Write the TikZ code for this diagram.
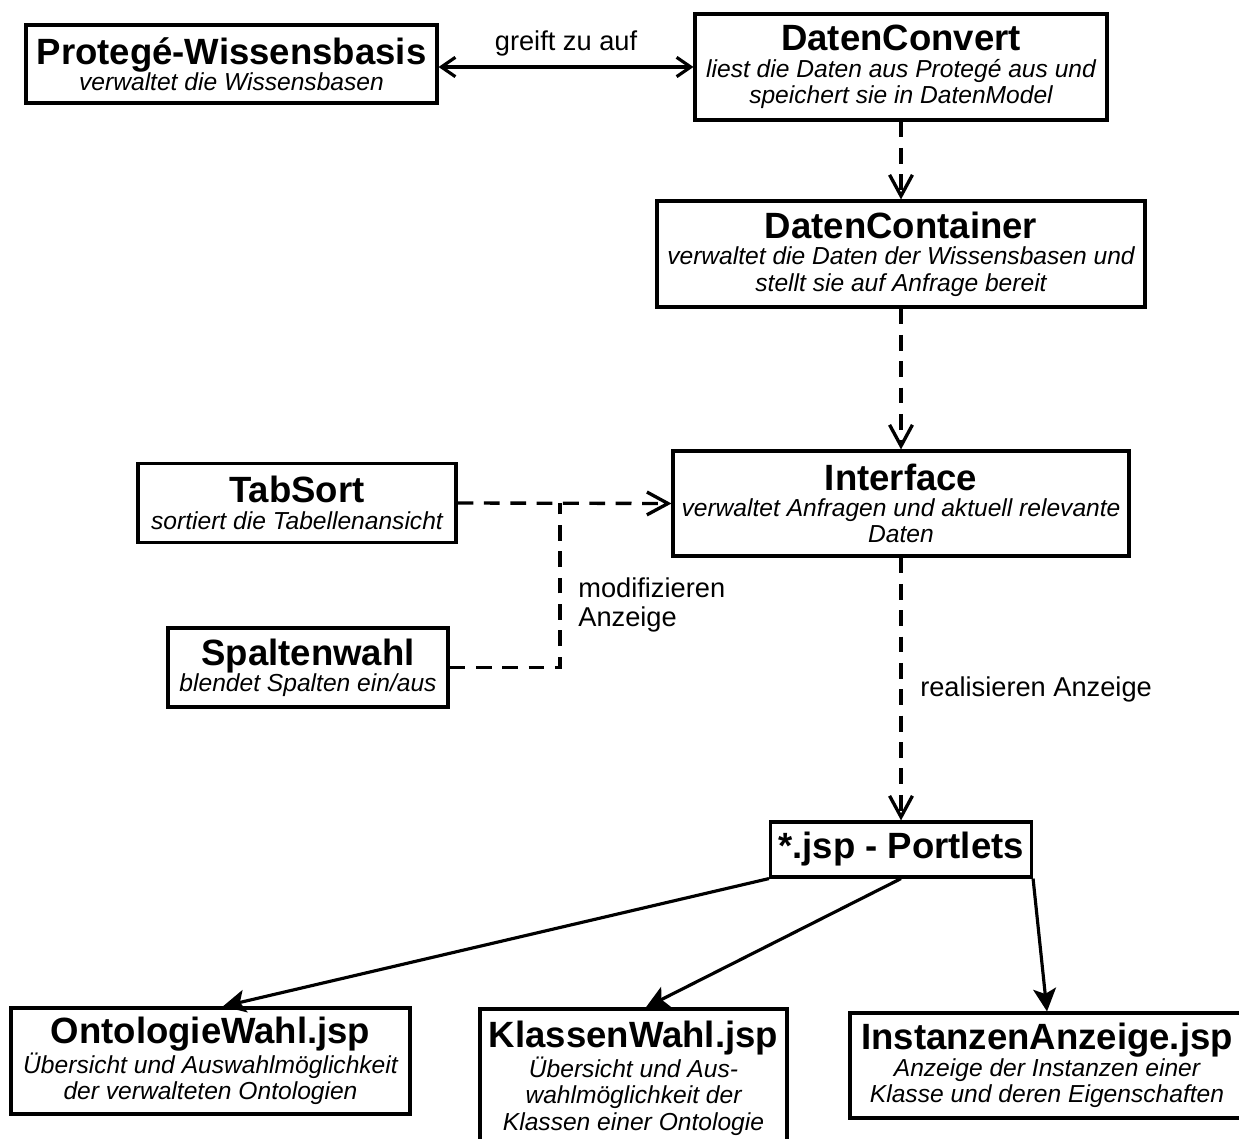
\documentclass[tikz,border=0pt]{standalone}
\usepackage{fontspec}
\setmainfont{Liberation Sans}
\usetikzlibrary{arrows.meta}
\newcommand{\titel}[1]{{\fontsize{20.8}{15}\selectfont\bfseries\upshape #1}}

\begin{document}
\begin{tikzpicture}[x=0.02cm, y=-0.02cm,
klasse/.style={draw, line width=1.8pt, align=center, inner sep=0, font=\fontsize{14}{15}\selectfont\itshape},
beschr/.style={inner sep=0, font=\fontsize{15.5}{17}\selectfont},
nutzt/.style={line width=1.9pt, dash pattern=on 9pt off 6pt, -{Straight Barb[length=12pt,width=13pt]}},
zugriff/.style={line width=1.8pt, {Straight Barb[length=8pt,width=11pt]}-{Straight Barb[length=8pt,width=11pt]}},
enthaelt/.style={line width=1.8pt, -{Stealth[length=13pt,width=13pt,inset=3pt]}}]
\clip (0,0) rectangle (1239,1138);
\node[klasse, minimum width=8.22cm, minimum height=1.56cm] (prot) at (231.5,64) {\titel{Protegé-Wissensbasis}\\verwaltet die Wissensbasen};
\node[klasse, minimum width=8.24cm, minimum height=2.12cm] (conv) at (901,67) {\titel{DatenConvert}\\liest die Daten aus Protegé aus und\\speichert sie in DatenModel};
\node[klasse, minimum width=9.76cm, minimum height=2.12cm] (cont) at (901,254) {\titel{DatenContainer}\\verwaltet die Daten der Wissensbasen und\\stellt sie auf Anfrage bereit};
\node[klasse, minimum width=9.12cm, minimum height=2.10cm] (iface) at (901,503.5) {\titel{Interface}\\verwaltet Anfragen und aktuell relevante\\Daten};
\node[klasse, minimum width=6.36cm, minimum height=1.58cm] (tab) at (297,503) {\titel{TabSort}\\sortiert die Tabellenansicht};
\node[klasse, minimum width=5.6cm, minimum height=1.58cm] (spalt) at (308,667.5) {\titel{Spaltenwahl}\\blendet Spalten ein/aus};
\node[klasse, minimum width=5.22cm, minimum height=1.10cm] (port) at (901,849.5) {\titel{*.jsp - Portlets}};
\node[klasse, minimum width=7.98cm, minimum height=2.12cm] (onto) at (210.5,1061) {\titel{OntologieWahl.jsp}\\Übersicht und Auswahlmöglichkeit\\der verwalteten Ontologien};
\node[klasse, minimum width=6.14cm, minimum height=2.76cm] (klass) at (633.5,1078) {\titel{KlassenWahl.jsp}\\Übersicht und Aus-\\wahlmöglichkeit der\\Klassen einer Ontologie};
\node[klasse, minimum width=7.88cm, minimum height=2.10cm] (inst) at (1047,1065.5) {\titel{InstanzenAnzeige.jsp}\\Anzeige der Instanzen einer\\Klasse und deren Eigenschaften};
\coordinate (knick) at (560,503);
\draw[zugriff] (prot.east |- conv.west) -- (conv.west) node[beschr, midway, above=5pt]{greift zu auf};
\draw[nutzt] (conv) -- (cont);
\draw[nutzt] (cont) -- (iface);
\draw[nutzt] (tab.east) -- (iface.west);
\draw[nutzt, -] (spalt.east) -| (knick);
\node[beschr, anchor=west, align=left] (modi) at (578,605) {modifizieren\\Anzeige};
\draw[nutzt] (iface) -- (port) node[beschr, midway, right=10pt]{realisieren Anzeige};
\draw[enthaelt] (port.south west) -- ([xshift=7]onto.north);
\draw[enthaelt] (port.south) -- ([xshift=7]klass.north);
\draw[enthaelt] (port.south east) -- (inst.north);
\end{tikzpicture}
\end{document}
